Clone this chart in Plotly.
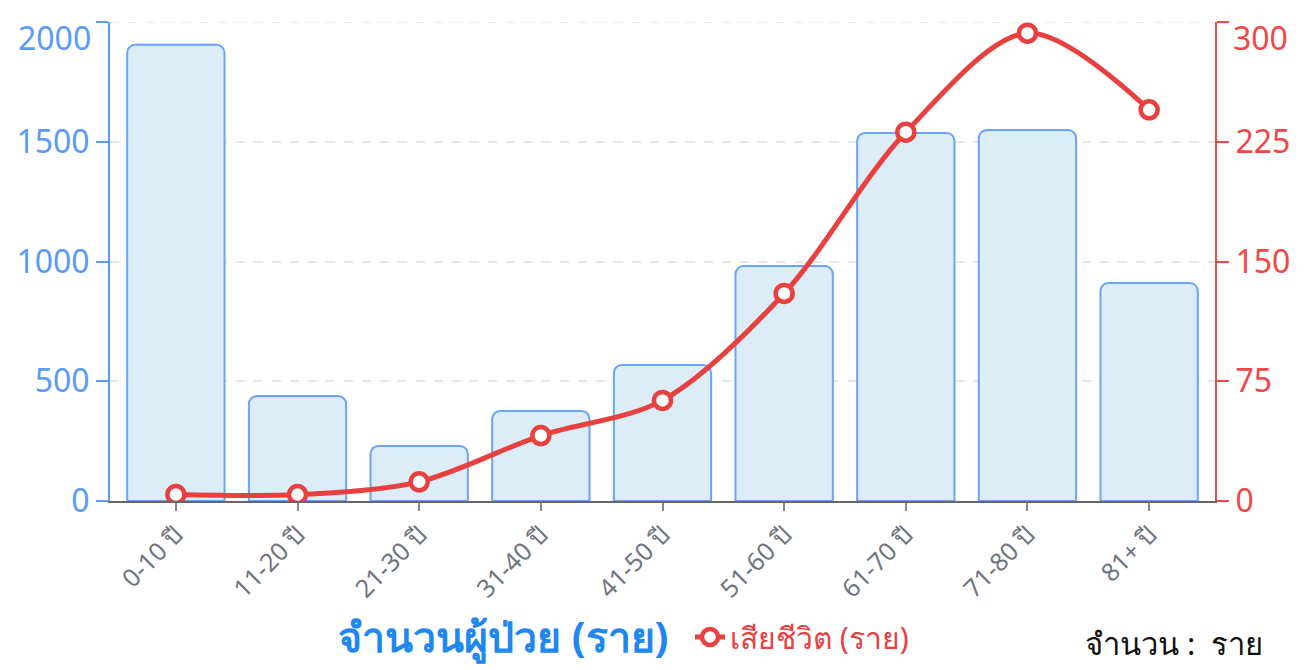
import plotly.graph_objects as go

categories = ["0-10 ปี", "11-20 ปี", "21-30 ปี", "31-40 ปี", "41-50 ปี",
              "51-60 ปี", "61-70 ปี", "71-80 ปี", "81+ ปี"]
patients = [1905, 438, 230, 376, 568, 981, 1537, 1549, 910]
deaths = [4, 4, 12, 41, 63, 130, 231, 293, 245]

left_ticks = [0, 500, 1000, 1500, 2000]
right_ticks = [0, 75, 150, 225, 300]

bar_name = "จำนวนผู้ป่วย (ราย)"
line_name = "เสียชีวิต (ราย)"
unit_note = "จำนวน :  ราย"

FONT = "Noto Sans, Open Sans, sans-serif"
BLUE_AX = "#5b9bf8"
RED_AX = "#f04848"
RED_LINE = "#e8403f"

W, H = 1306, 670
OFF = 8  # page body margin offset
L, R, T, B = 110 - OFF, W - (1215 - OFF), 22 - OFF, H - (501 - OFF)
PW, PH = W - L - R, H - T - B


def px_x(x):
    return (x - OFF - L) / PW


def px_y(y):
    return (H - B - (y - OFF)) / PH


fig = go.Figure()
fig.add_trace(go.Bar(
    x=categories, y=patients, name=bar_name, showlegend=False,
    marker=dict(color="#dcedf8", line=dict(color="#6aa3f7", width=2), cornerradius=8),
    yaxis="y",
))
fig.add_trace(go.Scatter(
    x=categories, y=deaths, name=line_name, mode="lines+markers",
    line=dict(color=RED_LINE, width=5, shape="spline", smoothing=0.9),
    marker=dict(size=17, color="white", line=dict(color=RED_LINE, width=4.5)),
    yaxis="y2",
))

# top-most tick labels are drawn nudged inside the figure (as in the reference)
left_text = [str(v) for v in left_ticks[:-1]] + [""]
right_text = [str(v) for v in right_ticks[:-1]] + [""]

fig.update_layout(
    width=W, height=H,
    margin=dict(l=L, r=R, t=T, b=B, autoexpand=False),
    paper_bgcolor="white", plot_bgcolor="white",
    font=dict(family=FONT),
    bargap=0.2,
    xaxis=dict(
        automargin=False,
        showline=True, linecolor="#666666", linewidth=1.5,
        ticks="outside", ticklen=8, tickcolor="#888888", tickwidth=2,
        tickangle=-45, tickfont=dict(size=25, color="#6f7580", family=FONT),
        showgrid=False,
    ),
    yaxis=dict(
        automargin=False,
        range=[0, 2000], tickvals=left_ticks, ticktext=left_text,
        showline=True, linecolor=BLUE_AX, linewidth=2,
        ticks="outside", ticklen=12, tickcolor=BLUE_AX, tickwidth=2,
        tickfont=dict(size=32, color=BLUE_AX, family=FONT),
        ticklabeloverflow="allow",
        showgrid=True, gridcolor="#e2e6f0", griddash="dash", gridwidth=1.5,
        zeroline=False,
    ),
    yaxis2=dict(
        automargin=False,
        range=[0, 300], tickvals=right_ticks, ticktext=right_text,
        overlaying="y", side="right",
        showline=True, linecolor=RED_AX, linewidth=2,
        ticks="outside", ticklen=12, tickcolor=RED_AX, tickwidth=2,
        tickfont=dict(size=32, color=RED_AX, family=FONT),
        ticklabeloverflow="allow",
        showgrid=False, zeroline=False,
    ),
    legend=dict(
        orientation="h", x=px_x(690), xanchor="left", y=px_y(637), yanchor="middle",
        font=dict(size=30, color=RED_LINE, family=FONT),
        bgcolor="rgba(0,0,0,0)", itemwidth=30,
    ),
    shapes=[
        dict(type="line", xref="paper", yref="y", x0=0, x1=1, y0=2000, y1=2000,
             line=dict(color="#e2e6f0", width=1.5, dash="dash"), layer="below"),
    ],
    annotations=[
        dict(text=str(left_ticks[-1]), xref="paper", yref="paper",
             x=px_x(93), y=px_y(38), xanchor="right", yanchor="middle",
             showarrow=False, font=dict(size=32, color=BLUE_AX, family=FONT)),
        dict(text=str(right_ticks[-1]), xref="paper", yref="paper",
             x=px_x(1231), y=px_y(38), xanchor="left", yanchor="middle",
             showarrow=False, font=dict(size=32, color=RED_AX, family=FONT)),
        dict(text="<b>" + bar_name + "</b>", xref="paper", yref="paper",
             x=px_x(503), y=px_y(636), xanchor="center", yanchor="middle",
             showarrow=False, font=dict(size=41, color="#1e88ee", family=FONT)),
        dict(text=unit_note.replace("  ", " \u00a0"), xref="paper", yref="paper",
             x=px_x(1266), y=px_y(643), xanchor="right", yanchor="middle",
             showarrow=False, font=dict(size=31, color="#111111", family=FONT)),
    ],
)

fig.write_html("out.html")
